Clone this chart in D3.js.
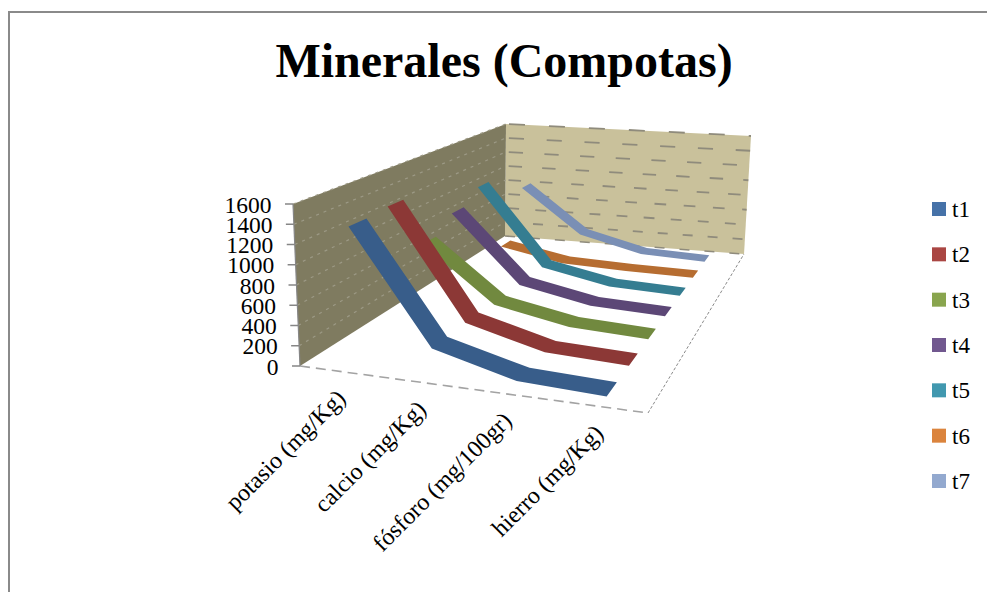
<!DOCTYPE html>
<html><head><meta charset="utf-8">
<script src="https://cdn.jsdelivr.net/npm/d3@7"></script>
<style>html,body{margin:0;background:#fff}svg{display:block}text{font-family:"Liberation Serif",serif;fill:#000}</style>
</head><body><svg id="c" width="987" height="592"></svg>
<script>
const title = "Minerales (Compotas)";
const categories = ["potasio (mg/Kg)", "calcio (mg/Kg)", "fósforo (mg/100gr)", "hierro (mg/Kg)"];
const seriesNames = ["t1", "t2", "t3", "t4", "t5", "t6", "t7"];
const t1 = [1365, 250, 40, 5];
const t2 = [1390, 250, 40, 5];
const t3 = [800, 200, 45, 5];
const t4 = [970, 200, 40, 5];
const t5 = [1130, 200, 40, 5];
const t6 = [200, 50, 20, 5];
const t7 = [820, 240, 40, 5];
const seriesValues = [t1, t2, t3, t4, t5, t6, t7];
const seriesColors = ["#385d8a", "#8c3836", "#71893f", "#5c4776", "#357d91", "#b66d31", "#7a8fb5"];
const legendColors = ["#4672a8", "#aa4643", "#89a54e", "#71588f", "#4198af", "#db843d", "#93a9cf"];
const ticks = [0, 200, 400, 600, 800, 1000, 1200, 1400, 1600];

// Box corners on screen: floor then ceiling, front/back, left/right
const floorC = {fl:[300,366], fr:[648,413], br:[744,254], bl:[505,236]};
const ceilC  = {fl:[293,204], fr:[655,238], br:[751,136], bl:[506,124]};

function homography(c){
  // Unit square to quadrilateral
  const [x0,y0]=c.fl,[x1,y1]=c.fr,[x2,y2]=c.br,[x3,y3]=c.bl;
  const dx1=x1-x2,dx2=x3-x2,sx=x0-x1+x2-x3,dy1=y1-y2,dy2=y3-y2,sy=y0-y1+y2-y3;
  const den=dx1*dy2-dx2*dy1;
  const g=(sx*dy2-dx2*sy)/den,h=(dx1*sy-sx*dy1)/den;
  const a=x1-x0+g*x1,b=x3-x0+h*x3,d=y1-y0+g*y1,e=y3-y0+h*y3;
  return (u,w)=>{const q=g*u+h*w+1;return [(a*u+b*w+x0)/q,(d*u+e*w+y0)/q];};
}
const floorH = homography(floorC), ceilH = homography(ceilC);

const uScale = d3.scaleBand().domain(categories).range([0.012,1]);
const wScale = d3.scaleBand().domain(seriesNames).range([0,1]);
const vScale = d3.scaleLinear().domain([0,1600]).range([0,1]);
function project(u,w,v){
  const a=floorH(u,w),b=ceilH(u,w),t=vScale(v);
  return [a[0]+(b[0]-a[0])*t,a[1]+(b[1]-a[1])*t];
}

const svg = d3.select("#c");
const line = d3.line();

svg.append("path").attr("fill","none").attr("stroke","#8a8a8a").attr("stroke-width",2)
  .attr("d","M9,600V12H987");

svg.append("text").attr("x",504).attr("y",77).attr("text-anchor","middle")
  .attr("font-size",48).attr("font-weight","bold").text(title);

// Side and back walls
svg.append("path").attr("fill","#c9c19b")
  .attr("d",line([project(0,1,0),project(1,1,0),project(1,1,1600),project(0,1,1600)])+"Z");
svg.append("path").attr("fill","#7f7b60")
  .attr("d",line([project(0,0,0),project(0,1,0),project(0,1,1600),project(0,0,1600)])+"Z");

// Gridlines on both walls
const backPeriod = d3.scaleLinear().domain([200,1600]).range([25,40]);
ticks.filter(d=>d>0).forEach(v=>{
  svg.append("path").attr("fill","none").attr("stroke","#9c9985").attr("stroke-width",1.2)
    .attr("stroke-dasharray","3 5")
    .attr("d",line([project(0,0,v),project(0,1,v)]));
  const p=backPeriod(v);
  svg.append("path").attr("fill","none").attr("stroke","#8f8b7c").attr("stroke-width",1.8)
    .attr("stroke-dasharray",`${p*0.4} ${p*0.6}`).attr("stroke-dashoffset",-3)
    .attr("d",line([project(0,1,v),project(1,1,v)]));
});
// Floor edges
svg.append("path").attr("fill","none").attr("stroke","#a3a3a3").attr("stroke-width",1.6)
  .attr("stroke-dasharray","10 6").attr("d",line([project(0,0,0),project(1,0,0)]));
svg.append("path").attr("fill","none").attr("stroke","#8a8a8a").attr("stroke-width",1)
  .attr("stroke-dasharray","3 2").attr("d",line([project(1,0,0),project(1,1,0)]));
svg.append("path").attr("fill","none").attr("stroke","#8f8b7c").attr("stroke-width",1.5)
  .attr("stroke-dasharray","10 15").attr("d",line([project(0,1,0),project(1,1,0)]));

// Value axis
svg.selectAll(".tk").data(ticks).join("line")
  .attr("x1",d=>project(0,0,d)[0]-8).attr("x2",d=>project(0,0,d)[0])
  .attr("y1",d=>project(0,0,d)[1]).attr("y2",d=>project(0,0,d)[1])
  .attr("stroke","#868686").attr("stroke-width",1.5);
svg.append("path").attr("stroke","#868686").attr("stroke-width",1.2)
  .attr("d",line([project(0,0,0),project(0,0,1600)]));
svg.selectAll(".yl").data(ticks).join("text")
  .attr("x",d=>project(0,0,d)[0]-21.5).attr("y",d=>project(0,0,d)[1]+8.5)
  .attr("text-anchor","end").attr("font-size",23.5).text(d=>d);

// Ribbons, back series first so nearer ones overlap them
const ribbon = 0.44;
seriesNames.map((n,i)=>i).reverse().forEach(i=>{
  const n=seriesNames[i], vals=seriesValues[i];
  const w0=wScale(n)+wScale.bandwidth()*(1-ribbon)/2, w1=w0+wScale.bandwidth()*ribbon;
  const us=categories.map(c=>uScale(c)+uScale.bandwidth()/2);
  const front=vals.map((v,k)=>project(us[k],w0,v));
  const back=vals.map((v,k)=>project(us[k],w1,v)).reverse();
  svg.append("path").attr("fill",seriesColors[i]).attr("d",line(front.concat(back))+"Z");
});

// Category labels
categories.forEach((c,k)=>{
  const u=uScale(c)+uScale.bandwidth()/2, p=project(u,0,0);
  svg.append("text").attr("text-anchor","end").attr("font-size",24)
    .attr("transform",`translate(${p[0]+5},${p[1]+28}) rotate(-45)`).text(c);
});

// Legend
const legendY = d3.scalePoint().domain(seriesNames).range([209,481]);
seriesNames.forEach((n,i)=>{
  svg.append("rect").attr("x",932).attr("y",legendY(n)-7).attr("width",14).attr("height",14).attr("fill",legendColors[i]);
  svg.append("text").attr("x",952).attr("y",legendY(n)+8).attr("font-size",23).text(n);
});
</script></body></html>
